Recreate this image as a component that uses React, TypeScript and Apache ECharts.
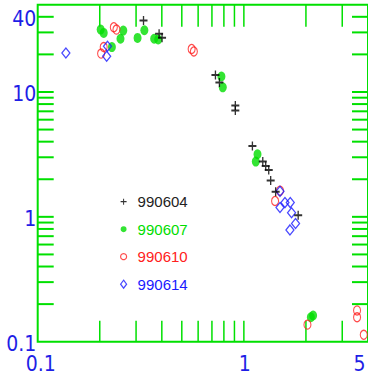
import React, { useEffect, useRef } from 'react';
import * as echarts from 'echarts';

// ---- data ----
const seriesNames = ['990604', '990607', '990610', '990614'];

const s990604: [number, number][] = [
  [0.326, 37.3], [0.388, 29.3], [0.401, 27.2], [0.728, 13.7], [0.761, 11.9],
  [0.909, 7.79], [0.909, 7.1], [1.1, 3.7], [1.235, 2.77], [1.276, 2.55],
  [1.32, 2.37], [1.349, 1.95], [1.426, 1.59], [1.834, 1.03],
];
const s990607: [number, number][] = [
  [0.202, 31.6], [0.209, 29.7], [0.229, 22.9], [0.252, 26.7], [0.26, 31.0],
  [0.305, 27.1], [0.329, 31.2], [0.367, 26.7], [0.384, 26.3], [0.778, 13.3],
  [0.79, 10.9], [1.164, 3.17], [1.142, 2.77], [2.166, 0.162], [2.112, 0.157],
];
const s990610: [number, number][] = [
  [0.234, 33.0], [0.241, 31.6], [0.209, 22.9], [0.203, 20.3], [0.558, 22.1],
  [0.572, 21.1], [1.497, 1.62], [1.417, 1.34], [2.034, 0.137], [3.54, 0.178],
  [3.54, 0.157], [3.815, 0.1136],
];
const s990614: [number, number][] = [
  [0.137, 20.5], [0.218, 23.2], [0.216, 19.3], [1.497, 1.6], [1.497, 1.19],
  [1.582, 1.3], [1.679, 1.3], [1.703, 1.08], [1.781, 0.885], [1.673, 0.786],
];

const xTickValues = [0.2, 0.3, 0.4, 0.5, 0.6, 0.7, 0.8, 0.9, 1, 2, 3];
const yTickValues = [
  0.2, 0.3, 0.4, 0.5, 0.6, 0.7, 0.8, 0.9, 1,
  2, 3, 4, 5, 6, 7, 8, 9, 10, 20, 30, 40,
];
const xLabelValues = [0.1, 1, 4];
const xLabelTexts = ['0.1', '1', '5'];
const yLabelValues = [0.1, 1, 10, 40];
const yLabelTexts = ['0.1', '1', '10', '40'];

const X_MIN = 0.1;
const X_MAX = 4;
const Y_MIN = 0.1;
const Y_MAX = 50;

const AXIS_GREEN = '#00e000';
const LABEL_BLUE = '#1e1ee6';
const C_BLACK = '#000000';
const C_GREEN = '#00dd00';
const C_RED = '#ff2020';
const C_BLUE = '#1a1aff';
const LABEL_FONT = "'Liberation Sans Narrow', 'DejaVu Sans Condensed', 'Liberation Sans', sans-serif";

const PLUS_PATH = 'path://M0,3.5H9V5.5H0Z M3.75,0H5.25V9H3.75Z';

export default function App() {
  const ref = useRef<HTMLDivElement>(null);

  useEffect(() => {
    if (!ref.current) return;
    const chart = echarts.init(ref.current, undefined, { renderer: 'svg' });

    const option: any = {
      animation: false,
      backgroundColor: '#ffffff',
      grid: {
        show: true,
        left: 37.7,
        top: 4.7,
        right: -2,
        bottom: 37.3,
        borderColor: AXIS_GREEN,
        borderWidth: 2,
        backgroundColor: 'transparent',
      },
      xAxis: {
        type: 'log',
        logBase: 10,
        min: X_MIN,
        max: X_MAX,
        axisLine: { show: false },
        axisTick: { show: false },
        axisLabel: { show: false },
        splitLine: { show: false },
      },
      yAxis: {
        type: 'log',
        logBase: 10,
        min: Y_MIN,
        max: Y_MAX,
        axisLine: { show: false },
        axisTick: { show: false },
        axisLabel: { show: false },
        splitLine: { show: false },
      },
      legend: {
        orient: 'vertical',
        left: 120,
        top: 193.7,
        padding: 0,
        itemWidth: 6,
        itemHeight: 8,
        itemGap: 11.5,
        itemStyle: { borderWidth: 1.2 },
        textStyle: {
          fontSize: 15,
          fontFamily: "'Liberation Sans', Arial, sans-serif",
          lineHeight: 16,
          padding: [0, 0, 0, 6],
        },
        selectedMode: false,
        data: [
          { name: seriesNames[0], icon: PLUS_PATH, itemStyle: { borderWidth: 0 }, textStyle: { color: '#222222' } },
          { name: seriesNames[1], icon: 'circle', itemStyle: { borderWidth: 0 }, textStyle: { color: C_GREEN } },
          { name: seriesNames[2], icon: 'circle', textStyle: { color: C_RED } },
          { name: seriesNames[3], icon: 'diamond', textStyle: { color: C_BLUE } },
        ],
      },
      series: [
        {
          type: 'custom',
          name: 'xticks',
          clip: false,
          silent: true,
          z: 1,
          data: xTickValues.map((v) => [v, Y_MIN]),
          renderItem: (params: any, api: any) => {
            const cs = params.coordSys;
            const p = api.coord([api.value(0), Y_MIN]);
            const top = cs.y;
            const bottom = cs.y + cs.height;
            const st = { stroke: AXIS_GREEN, lineWidth: 1.5 };
            return {
              type: 'group',
              children: [
                { type: 'line', shape: { x1: p[0], y1: bottom, x2: p[0], y2: bottom - 21 }, style: st },
                { type: 'line', shape: { x1: p[0], y1: top, x2: p[0], y2: top + 22 }, style: st },
              ],
            };
          },
        },
        {
          type: 'custom',
          name: 'yticks',
          clip: false,
          silent: true,
          z: 1,
          data: yTickValues.map((v) => [X_MIN, v]),
          renderItem: (params: any, api: any) => {
            const cs = params.coordSys;
            const p = api.coord([X_MIN, api.value(1)]);
            const left = cs.x;
            const right = cs.x + cs.width;
            const st = { stroke: AXIS_GREEN, lineWidth: 2 };
            return {
              type: 'group',
              children: [
                { type: 'line', shape: { x1: left, y1: p[1], x2: left + 16, y2: p[1] }, style: st },
                { type: 'line', shape: { x1: right, y1: p[1], x2: right - 16, y2: p[1] }, style: st },
              ],
            };
          },
        },
        {
          type: 'custom',
          name: 'xlabels',
          clip: false,
          silent: true,
          data: xLabelValues.map((v) => [v, Y_MIN]),
          renderItem: (params: any, api: any) => {
            const cs = params.coordSys;
            const p = api.coord([api.value(0), Y_MIN]);
            const idx = params.dataIndex;
            const isLast = idx === xLabelValues.length - 1;
            return {
              type: 'text',
              x: isLast ? cs.x + cs.width - 2.5 : p[0] + (idx === 0 ? 3 : 1),
              y: cs.y + cs.height + 22,
              style: {
                text: xLabelTexts[idx],
                fill: LABEL_BLUE,
                fontSize: 21,
                fontFamily: LABEL_FONT,
                align: isLast ? 'right' : 'center',
                verticalAlign: 'middle',
              },
            };
          },
        },
        {
          type: 'custom',
          name: 'ylabels',
          clip: false,
          silent: true,
          data: yLabelValues.map((v) => [X_MIN, v]),
          renderItem: (params: any, api: any) => {
            const cs = params.coordSys;
            const p = api.coord([X_MIN, api.value(1)]);
            const idx = params.dataIndex;
            return {
              type: 'text',
              x: cs.x - 1.5,
              y: p[1] + 2,
              style: {
                text: yLabelTexts[idx],
                fill: LABEL_BLUE,
                fontSize: 21,
                fontFamily: LABEL_FONT,
                align: 'right',
                verticalAlign: 'middle',
              },
            };
          },
        },
        {
          type: 'scatter',
          name: seriesNames[0],
          data: s990604,
          symbol: PLUS_PATH,
          symbolSize: [8, 9],
          itemStyle: { color: C_BLACK },
          z: 5,
        },
        {
          type: 'scatter',
          name: seriesNames[1],
          data: s990607,
          symbol: 'circle',
          symbolSize: [8, 10],
          itemStyle: { color: C_GREEN },
          z: 3,
        },
        {
          type: 'scatter',
          name: seriesNames[2],
          data: s990610,
          symbol: 'circle',
          symbolSize: [7, 9],
          itemStyle: { color: 'rgba(0,0,0,0)', borderColor: C_RED, borderWidth: 1.2 },
          z: 4,
        },
        {
          type: 'scatter',
          name: seriesNames[3],
          data: s990614,
          symbol: 'diamond',
          symbolSize: [8, 10],
          itemStyle: { color: 'rgba(0,0,0,0)', borderColor: C_BLUE, borderWidth: 1.3 },
          z: 4,
        },
      ],
    };

    chart.setOption(option);
    return () => {
      chart.dispose();
    };
  }, []);

  return (
    <div
      style={{
        position: 'fixed',
        left: 0,
        top: 0,
        width: 368,
        height: 379,
        overflow: 'hidden',
        background: '#ffffff',
      }}
    >
      <div ref={ref} style={{ width: 368, height: 379 }} />
    </div>
  );
}
